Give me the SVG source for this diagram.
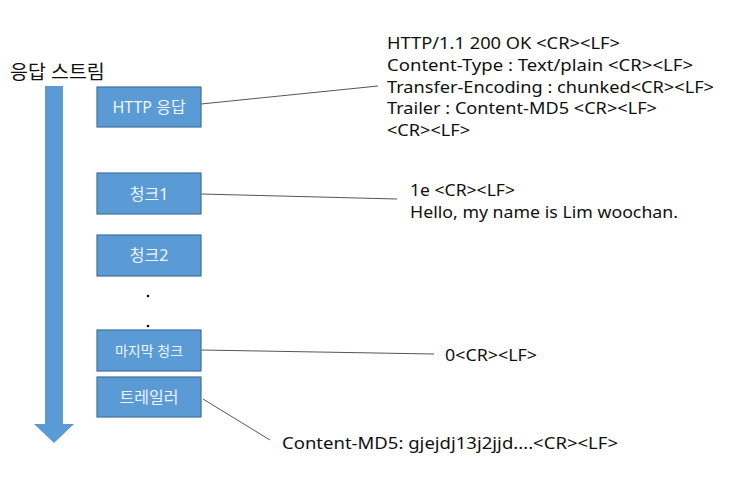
<svg xmlns="http://www.w3.org/2000/svg" width="743" height="491" viewBox="0 0 743 491">
<style>
text{font-family:"Noto Sans","Noto Sans CJK KR",sans-serif;fill:#111}
.box{fill:#5b9bd5;stroke:#41719c;stroke-width:1.2}
.lbl{fill:#eef3fa;font-size:16px;text-anchor:middle}
.t{font-size:17px}
.conn{stroke:#555;stroke-width:1;fill:none}
</style>
<rect width="743" height="491" fill="#fff"/>
<g id="stream">
<polygon points="45,86 63,86 63,424 74,424 54,443 34,424 45,424" fill="#5b9bd5"/>
<text x="10" y="79" style="font-size:19.5px" font-family="Noto Sans CJK KR, sans-serif">응답 스트림</text>
</g>
<g id="connectors">
<line class="conn" x1="201" y1="104" x2="378" y2="86"/>
<line class="conn" x1="201" y1="194" x2="397" y2="199"/>
<line class="conn" x1="201" y1="350" x2="434" y2="354"/>
<line class="conn" x1="203" y1="399" x2="270" y2="440"/>
</g>
<g id="n-http">
<rect class="box" x="97" y="87" width="104" height="40"/>
<text class="lbl" x="149" y="113">HTTP 응답</text>
</g>
<g id="n-chunk1">
<rect class="box" x="97" y="173" width="104" height="41"/>
<text class="lbl" x="149" y="200">청크1</text>
</g>
<g id="n-chunk2">
<rect class="box" x="97" y="235" width="104" height="41"/>
<text class="lbl" x="149" y="261">청크2</text>
</g>
<g id="dots">
<circle cx="148" cy="296" r="1.3" fill="#111"/>
<circle cx="148" cy="326" r="1.3" fill="#111"/>
</g>
<g id="n-last">
<rect class="box" x="97" y="330" width="104" height="41"/>
<text class="lbl" x="149" y="356" style="font-size:14px">마지막 청크</text>
</g>
<g id="n-trailer">
<rect class="box" x="97" y="377" width="104" height="40"/>
<text class="lbl" x="149" y="403">트레일러</text>
</g>
<g id="n-header-text">
<text class="t" x="387" y="49" textLength="233" lengthAdjust="spacingAndGlyphs">HTTP/1.1 200 OK &lt;CR&gt;&lt;LF&gt;</text>
<text class="t" x="387" y="70.75" textLength="306" lengthAdjust="spacingAndGlyphs">Content-Type : Text/plain &lt;CR&gt;&lt;LF&gt;</text>
<text class="t" x="387" y="92.5" textLength="327" lengthAdjust="spacingAndGlyphs">Transfer-Encoding : chunked&lt;CR&gt;&lt;LF&gt;</text>
<text class="t" x="387" y="114.25" textLength="270" lengthAdjust="spacingAndGlyphs">Trailer : Content-MD5 &lt;CR&gt;&lt;LF&gt;</text>
<text class="t" x="387" y="136" textLength="83" lengthAdjust="spacingAndGlyphs">&lt;CR&gt;&lt;LF&gt;</text>
</g>
<g id="n-chunk1-text">
<text class="t" x="410" y="196" textLength="105" lengthAdjust="spacingAndGlyphs">1e &lt;CR&gt;&lt;LF&gt;</text>
<text class="t" x="410" y="218" textLength="268" lengthAdjust="spacingAndGlyphs">Hello, my name is Lim woochan.</text>
</g>
<g id="n-last-text">
<text class="t" x="445" y="361" textLength="92" lengthAdjust="spacingAndGlyphs">0&lt;CR&gt;&lt;LF&gt;</text>
</g>
<g id="n-trailer-text">
<text class="t" x="282" y="449" textLength="336" lengthAdjust="spacingAndGlyphs">Content-MD5: gjejdj13j2jjd....&lt;CR&gt;&lt;LF&gt;</text>
</g>
</svg>
